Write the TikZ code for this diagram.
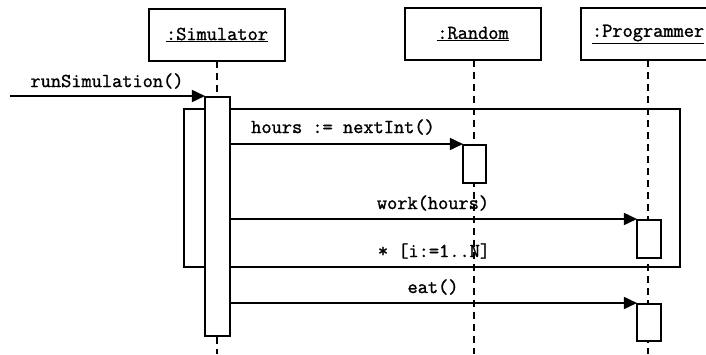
\documentclass[tikz,border=0pt]{standalone}
\usepackage{fontspec}
\newfontfamily\codefont[FakeBold=1.3]{Latin Modern Mono}
\usetikzlibrary{arrows.meta}
\begin{document}
\begin{tikzpicture}[x=1pt,y=-1pt,
  line width=1.7pt,
  font=\codefont\fontsize{19.8}{22}\selectfont,
  objbox/.style={draw, fill=white, minimum height=52pt, inner sep=0pt},
  actbox/.style={draw, fill=white, inner sep=0pt},
  lifeline/.style={line width=2pt, dash pattern=on 7pt off 5pt},
  msg/.style={-{Triangle[length=13pt,width=12pt]}, shorten >=-0.8pt},
  lbl/.style={inner sep=0pt}]
\useasboundingbox (0,0) rectangle (706,354);
\clip (0,0) rectangle (706,354);

% object headers
\node[objbox, minimum width=136pt] (sim) at (217,35) {\underline{:Simulator}};
\node[objbox, minimum width=136pt] (rnd) at (473,34) {\underline{:Random}};
\node[objbox, minimum width=142pt, text width=130pt, align=left] (prg) at (652,34) {\hspace*{5pt}\underline{:Programmer}};

% lifelines
\draw[lifeline] (217,61) -- (217,354);
\draw[lifeline] (474,60) -- (474,354);
\draw[lifeline] (648,60) -- (648,354);

% loop frame
\node[draw, minimum width=496pt, minimum height=158pt, inner sep=0pt] (loop) at (432,188) {};
\node[lbl] (cond) at (434,251) {* [i:=1..N]};

% activations
\node[actbox, minimum width=25pt, minimum height=239pt, anchor=north] (simact) at (217.5,96) {};
\node[actbox, minimum width=23pt, minimum height=38pt, anchor=north] (rndact) at (474.5,144) {};
\node[actbox, minimum width=24pt, minimum height=38pt, anchor=north] (prgact1) at (649,219) {};
\node[actbox, minimum width=24pt, minimum height=37pt, anchor=north] (prgact2) at (649,303) {};

% messages
\coordinate (caller) at (10,96);
\draw[msg] (caller) -- (simact.north west);
\node[lbl] (m0) at (107,81) {runSimulation()};

\draw[msg] (simact.east |- rndact.north) -- (rndact.north west);
\node[lbl] (m1) at (343,127) {hours := nextInt()};

\draw[msg] (simact.east |- prgact1.north) -- (prgact1.north west);
\node[lbl] (m2) at (433,203) {work(hours)};

\draw[msg] (simact.east |- prgact2.north) -- (prgact2.north west);
\node[lbl] (m3) at (433,287) {eat()};
\end{tikzpicture}
\end{document}
